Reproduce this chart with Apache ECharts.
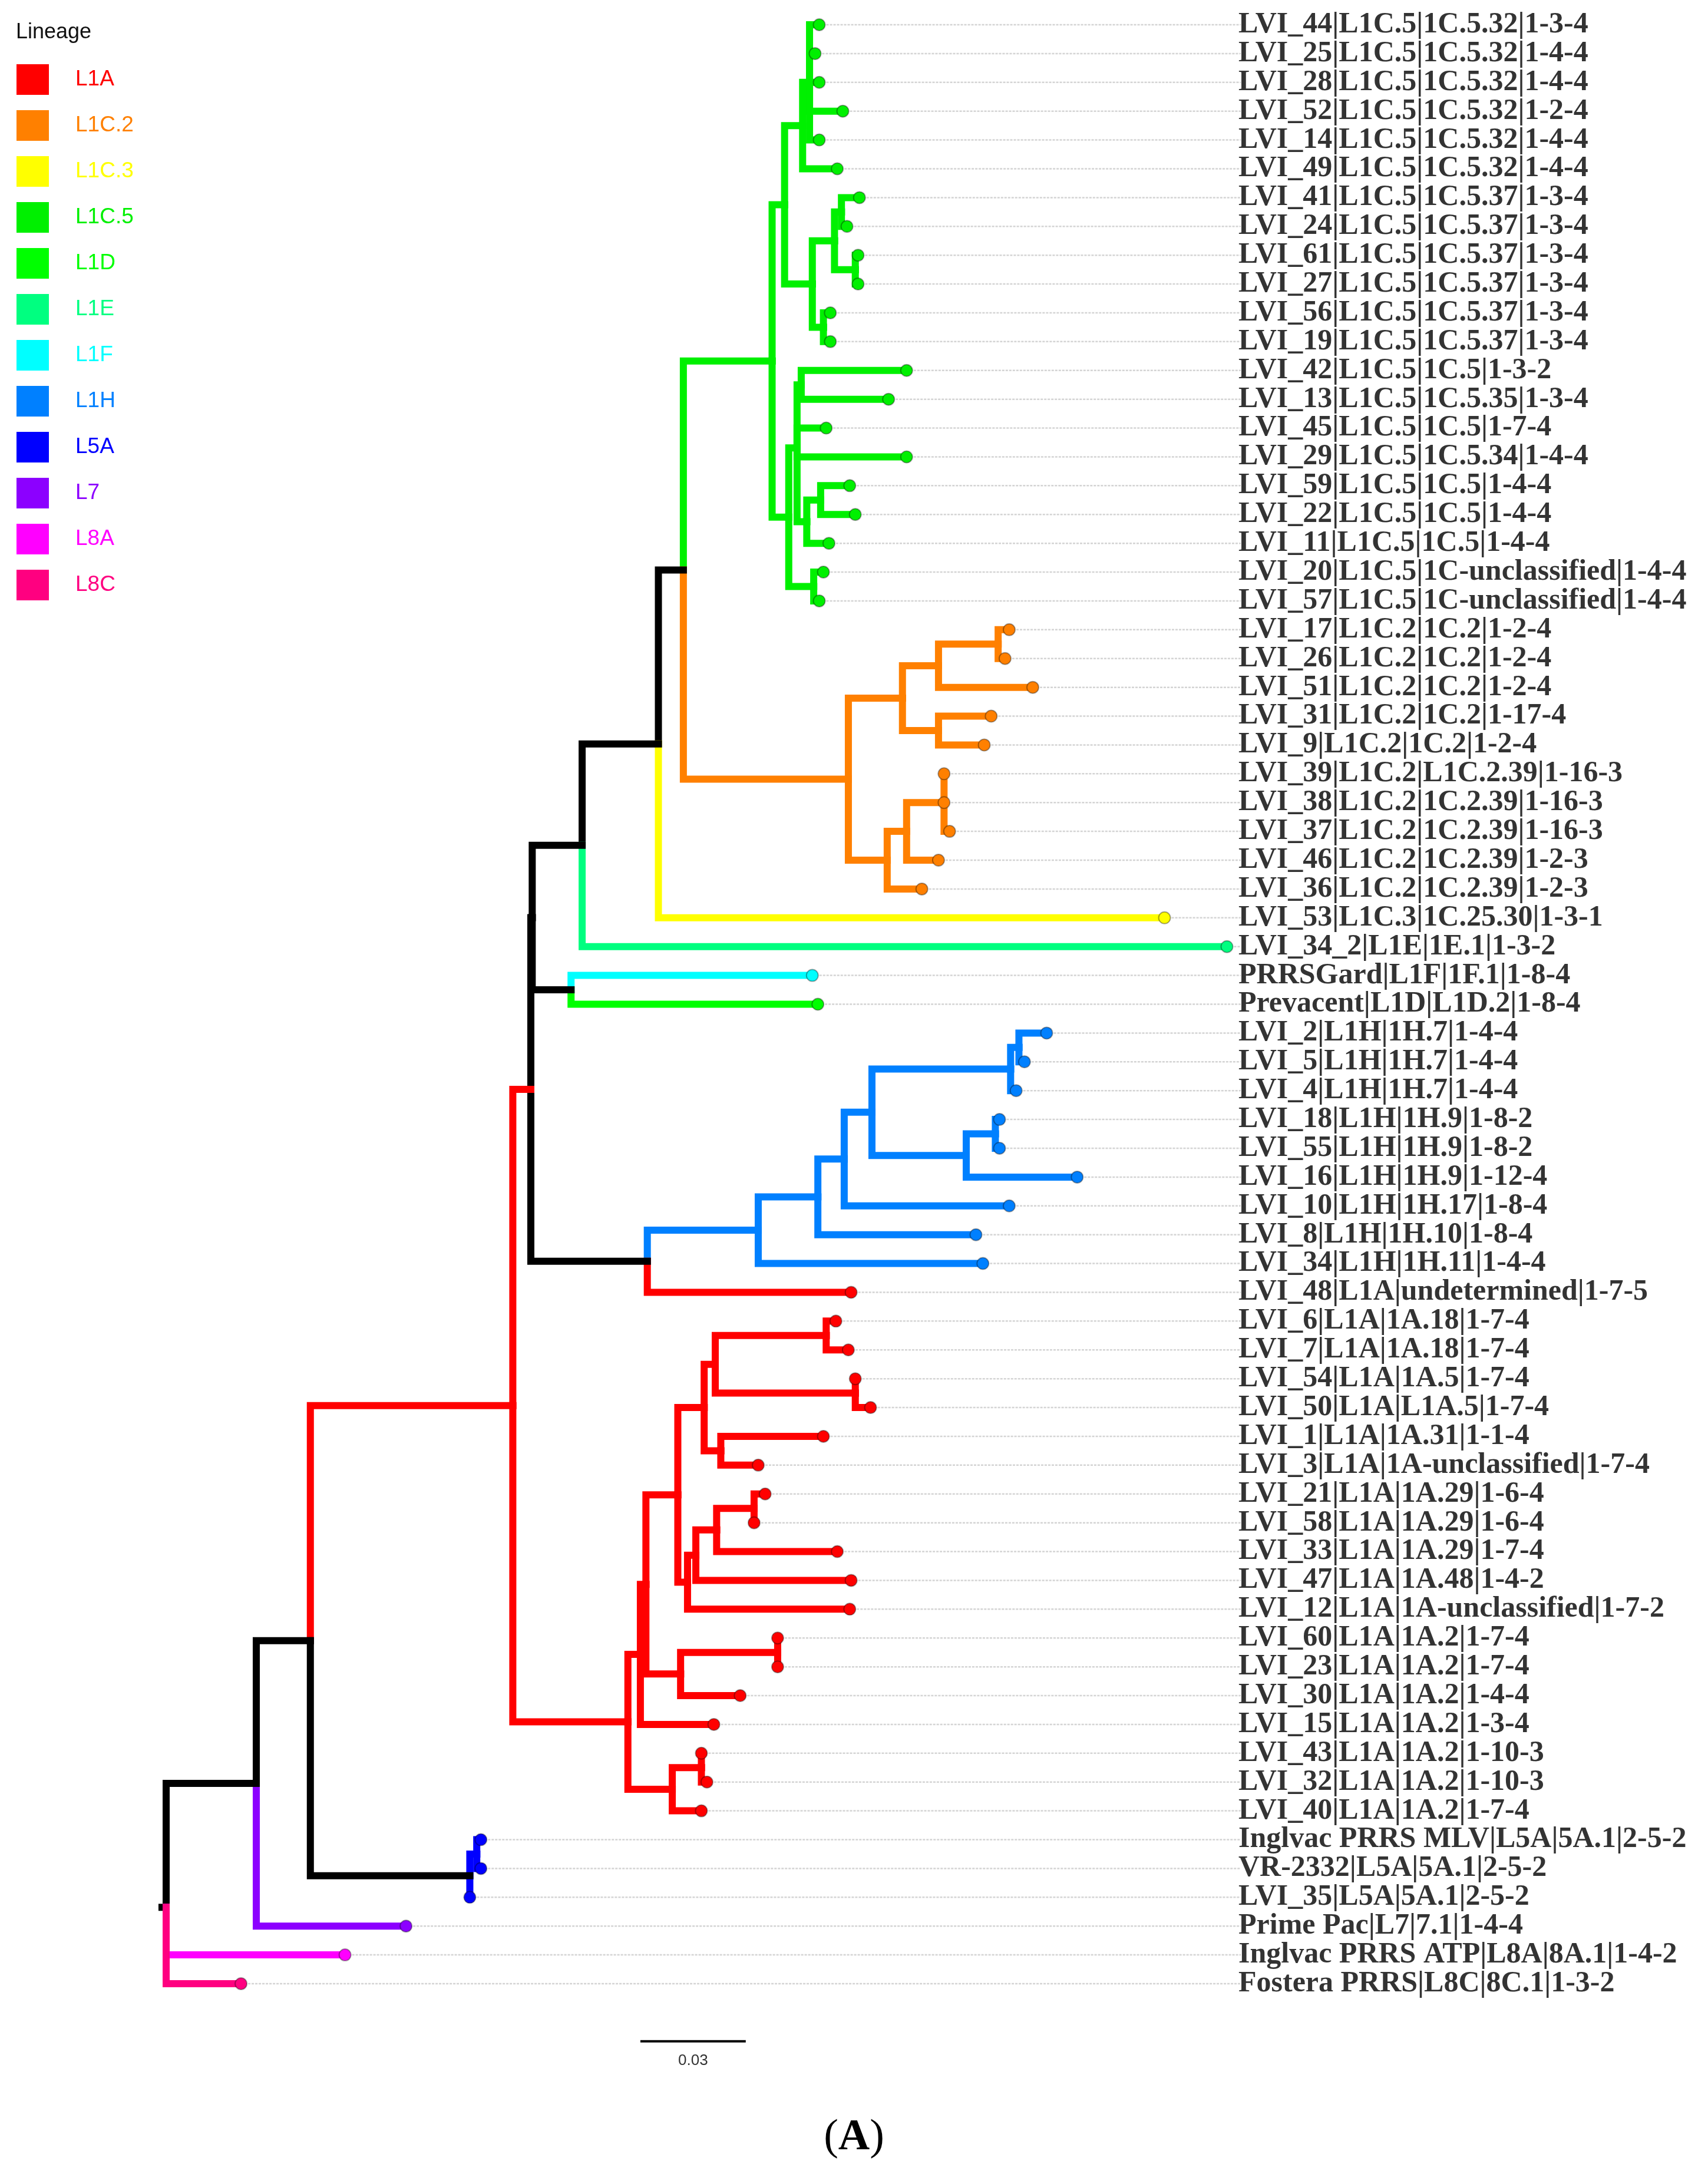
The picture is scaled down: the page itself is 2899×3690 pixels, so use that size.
<!DOCTYPE html>
<html><head><meta charset="utf-8">
<script src="https://cdn.jsdelivr.net/npm/echarts@6/dist/echarts.min.js"></script>
<style>html,body{margin:0;padding:0;background:#fff}#c{width:2899px;height:3690px}</style>
</head><body><div id="c"></div>
<script>
// ---- data ----
const lineages = ['L1A','L1C.2','L1C.3','L1C.5','L1D','L1E','L1F','L1H','L5A','L7','L8A','L8C'];
const lineageColors = ['#FF0000','#FF8000','#FFFF00','#00F000','#00FF00','#00FF80','#00FFFF','#0080FF','#0000FF','#8C00FF','#FF00FF','#FF0080'];
const tipLabels = [
'LVI_44|L1C.5|1C.5.32|1-3-4','LVI_25|L1C.5|1C.5.32|1-4-4','LVI_28|L1C.5|1C.5.32|1-4-4','LVI_52|L1C.5|1C.5.32|1-2-4','LVI_14|L1C.5|1C.5.32|1-4-4','LVI_49|L1C.5|1C.5.32|1-4-4',
'LVI_41|L1C.5|1C.5.37|1-3-4','LVI_24|L1C.5|1C.5.37|1-3-4','LVI_61|L1C.5|1C.5.37|1-3-4','LVI_27|L1C.5|1C.5.37|1-3-4','LVI_56|L1C.5|1C.5.37|1-3-4','LVI_19|L1C.5|1C.5.37|1-3-4',
'LVI_42|L1C.5|1C.5|1-3-2','LVI_13|L1C.5|1C.5.35|1-3-4','LVI_45|L1C.5|1C.5|1-7-4','LVI_29|L1C.5|1C.5.34|1-4-4','LVI_59|L1C.5|1C.5|1-4-4','LVI_22|L1C.5|1C.5|1-4-4','LVI_11|L1C.5|1C.5|1-4-4',
'LVI_20|L1C.5|1C-unclassified|1-4-4','LVI_57|L1C.5|1C-unclassified|1-4-4',
'LVI_17|L1C.2|1C.2|1-2-4','LVI_26|L1C.2|1C.2|1-2-4','LVI_51|L1C.2|1C.2|1-2-4','LVI_31|L1C.2|1C.2|1-17-4','LVI_9|L1C.2|1C.2|1-2-4',
'LVI_39|L1C.2|L1C.2.39|1-16-3','LVI_38|L1C.2|1C.2.39|1-16-3','LVI_37|L1C.2|1C.2.39|1-16-3','LVI_46|L1C.2|1C.2.39|1-2-3','LVI_36|L1C.2|1C.2.39|1-2-3',
'LVI_53|L1C.3|1C.25.30|1-3-1','LVI_34_2|L1E|1E.1|1-3-2','PRRSGard|L1F|1F.1|1-8-4','Prevacent|L1D|L1D.2|1-8-4',
'LVI_2|L1H|1H.7|1-4-4','LVI_5|L1H|1H.7|1-4-4','LVI_4|L1H|1H.7|1-4-4','LVI_18|L1H|1H.9|1-8-2','LVI_55|L1H|1H.9|1-8-2','LVI_16|L1H|1H.9|1-12-4','LVI_10|L1H|1H.17|1-8-4','LVI_8|L1H|1H.10|1-8-4','LVI_34|L1H|1H.11|1-4-4',
'LVI_48|L1A|undetermined|1-7-5','LVI_6|L1A|1A.18|1-7-4','LVI_7|L1A|1A.18|1-7-4','LVI_54|L1A|1A.5|1-7-4','LVI_50|L1A|L1A.5|1-7-4','LVI_1|L1A|1A.31|1-1-4','LVI_3|L1A|1A-unclassified|1-7-4',
'LVI_21|L1A|1A.29|1-6-4','LVI_58|L1A|1A.29|1-6-4','LVI_33|L1A|1A.29|1-7-4','LVI_47|L1A|1A.48|1-4-2','LVI_12|L1A|1A-unclassified|1-7-2',
'LVI_60|L1A|1A.2|1-7-4','LVI_23|L1A|1A.2|1-7-4','LVI_30|L1A|1A.2|1-4-4','LVI_15|L1A|1A.2|1-3-4','LVI_43|L1A|1A.2|1-10-3','LVI_32|L1A|1A.2|1-10-3','LVI_40|L1A|1A.2|1-7-4',
'Inglvac PRRS MLV|L5A|5A.1|2-5-2','VR-2332|L5A|5A.1|2-5-2','LVI_35|L5A|5A.1|2-5-2','Prime Pac|L7|7.1|1-4-4','Inglvac PRRS ATP|L8A|8A.1|1-4-2','Fostera PRRS|L8C|8C.1|1-3-2'];
const tipLineage = tipLabels.map(s => s.split('|')[1]);
// distance from root (units: 76 units = 0.03 substitutions/site)
const tipDepth = [471,468,471,488,471,484,500,491,499,499,479,479,534,521,476,534,493,497,478,474,471,
608,605,625,595,590,561,561,565,557,545,720,765,466,470,
635,619,613,601,601,657,608,584,589,
494,483,492,497,508,474,427,432,424,484,494,493,441,441,414,395,386,390,386,
227,227,219,173,129,54];
const scaleBar = {units: 76, label: '0.03'};
const depthMax = 775;

// tree topology: N(depth, edgeLineage, ...children); numbers are tip indices
function N(d, c, ...kids){ return {d, c, kids}; }
const g='L1C.5', o='L1C.2', h='L1H', a='L1A', k='black';
const G1 = N(446,g, N(459,g, N(464,g,0,1,2,3,4),5), N(466,g, N(482,g, N(487,g,6,7), N(497,g,8,9)), N(474,g,10,11)));
const G2 = N(449,g, N(455,g, N(458,g,12,13),14,15, N(462,g, N(472,g,16,17),18)), N(467,g,19,20));
const O1 = N(531,o, N(557,o, N(600,o,21,22),23), N(557,o,24,25));
const O2 = N(520,o, N(534,o, N(561,o,26,27,28),29),30);
const H = N(427,h, N(470,h, N(489,h, N(509,h, N(609,h, N(615,h,35,36),37), N(577,h, N(598,h,38,39),40)),41),42),43);
const N1 = N(369,a, N(388,a, N(396,a, N(476,a,45,46), N(497,a,47,48)), N(400,a,49,50)),
                    N(376,a, N(382,a, N(397,a, N(424,a,51,52),53),54),55));
const Rc = N(371,a, N(441,a,56,57),58);
const Rb = N(365,a, N(386,a,60,61),62);
const R = N(333,a, N(342,a, N(346,a, N1, Rc),59), Rb);
const tree = N(0,k,
  N(65,k,
    N(104,k,
      N(250,a,
        N(263,a,
          N(264,k,
            N(300,k,
              N(355,k,
                N(373,k, N(437,g,G1,G2), N(492,o,O1,O2)),
                31),
              32),
            N(292,k,33,34)),
          N(347,k, H, 44)),
        R),
      N(219,k, N(224,'L5A',63,64),65)),
    66),
  67,68);

// ---- layout ----
const colorOf = c => c==='black' ? '#000000' : lineageColors[lineages.indexOf(c)];
const edges = [];
function place(n){
  if (typeof n === 'number') return {x: tipDepth[n], y: n, c: tipLineage[n]};
  const kids = n.kids.map(place);
  const y = kids.reduce((s,q)=>s+q.y,0)/kids.length;
  kids.forEach(q => edges.push([n.d, y, q.x, q.y, q.c]));
  return {x: n.d, y, c: n.c};
}
const rootPos = place(tree);
edges.unshift([-3, rootPos.y, 0, rootPos.y, 'black']);

const W = 2899, Hh = 3690;
const chart = echarts.init(document.getElementById('c'), null, {renderer:'canvas', width:W, height:Hh});
const lineageSeries = lineages.map((l,i)=>({name:l, type:'scatter', data:[], itemStyle:{color:lineageColors[i], opacity:1}}));

chart.setOption({
  animation:false,
  title:{text:'Lineage', left:22, top:32, textStyle:{fontFamily:'Liberation Sans', fontSize:36, fontWeight:'normal', color:'#111'}},
  legend:{orient:'vertical', left:23, top:104, itemWidth:55, itemHeight:52, itemGap:26, icon:'rect',
    itemStyle:{opacity:1},
    data: lineages.map((l,i)=>({name:l, textStyle:{color:lineageColors[i]}})),
    textStyle:{fontFamily:'Liberation Sans', fontSize:37, padding:[0,0,0,40]}, selectedMode:false},
  grid:{left:282, right:W-2106, top:42, bottom:Hh-3367},
  xAxis:{type:'value', min:0, max:depthMax, show:false},
  yAxis:{type:'value', min:0, max:tipLabels.length-1, inverse:true, show:false},
  graphic:[{type:'text', left:'center', top:3592, style:{text:'{n|(}{b|A}{n|)}', rich:{
    n:{fontFamily:'Liberation Serif', fontSize:74, fill:'#000'}, b:{fontFamily:'Liberation Serif', fontSize:74, fontWeight:'bold', fill:'#000'}}}}],
  series:[
    ...lineageSeries,
    {type:'custom', z:1, silent:true, data: tipDepth.map((d,i)=>[d,i]),
      renderItem:(p,api)=>{const s=api.coord([api.value(0),api.value(1)]); const e=api.coord([depthMax,api.value(1)]);
        return {type:'line', shape:{x1:s[0],y1:s[1],x2:e[0],y2:e[1]}, style:{stroke:'#d4d4d4', lineWidth:2.5, lineDash:[4,2]}};}},
    {type:'custom', z:2, silent:true, data: edges.map(e=>[e[0],e[1],e[2],e[3]]),
      renderItem:(p,api)=>{const e=edges[p.dataIndex];
        const a1=api.coord([e[0],e[1]]), m=api.coord([e[0],e[3]]), c=api.coord([e[2],e[3]]);
        return {type:'polyline', shape:{points:[a1,m,c]}, style:{stroke:colorOf(e[4]), lineWidth:12, fill:null, lineCap:'square', lineJoin:'miter'}};}},
    {type:'scatter', z:3, silent:true, symbolSize:20, data: tipDepth.map((d,i)=>({value:[d,i], itemStyle:{color:colorOf(tipLineage[i])}})),
      itemStyle:{borderColor:'rgba(0,0,0,0.35)', borderWidth:2, opacity:1}},
    {type:'scatter', z:3, silent:true, symbolSize:0, data: tipLabels.map((t,i)=>[depthMax,i]),
      label:{show:true, position:'right', distance:-4, formatter:p=>tipLabels[p.dataIndex],
        fontFamily:'Liberation Serif', fontWeight:'bold', fontSize:50, color:'#000'}},
    {type:'custom', z:3, silent:true, clip:false, data:[[342, 70.0]],
      renderItem:(p,api)=>{const s=api.coord([api.value(0),api.value(1)]); const e=api.coord([api.value(0)+scaleBar.units,api.value(1)]);
        return {type:'group', children:[
          {type:'line', shape:{x1:s[0],y1:s[1],x2:e[0],y2:e[1]}, style:{stroke:'#000', lineWidth:4}},
          {type:'text', x:(s[0]+e[0])/2, y:s[1]+20, style:{text:scaleBar.label, fontFamily:'Liberation Sans', fontSize:26, fill:'#333', align:'center', verticalAlign:'top'}}]};}}
  ]
});
</script></body></html>
